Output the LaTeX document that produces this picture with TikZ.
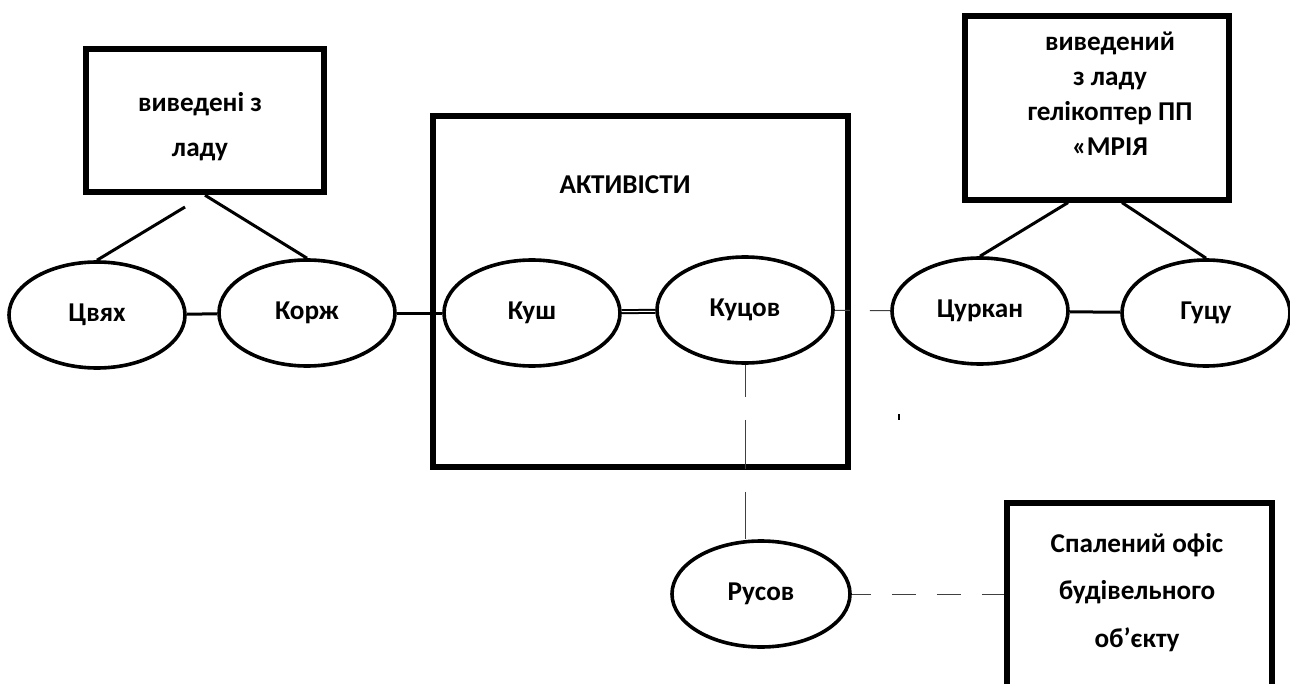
\documentclass[tikz,border=0pt]{standalone}
\usepackage{fontspec}
\setmainfont{Carlito}
\usetikzlibrary{shapes.geometric}

\begin{document}
\begin{tikzpicture}[x=0.5pt, y=-0.5pt,
    font=\fontsize{13.6}{16}\selectfont\bfseries,
    person/.style={draw, ellipse, line width=1.8pt, minimum width=88pt, minimum height=53pt, inner sep=0pt},
    frame/.style={draw, rectangle, line width=2.6pt, inner sep=0pt},
    tie/.style={line width=1.5pt},
    faint/.style={line width=0.5pt, black!75}]

    \useasboundingbox (0,0) rectangle (1290,684);
    \clip (0,0) rectangle (1290,684);

    \node[frame, line width=3.2pt, minimum width=119pt, minimum height=71.5pt] (broken) at (205,120.5) {};
    \node[align=center, font=\fontsize{13.6}{22.5}\selectfont\bfseries] (brokentext) at (200,127) {виведені з\\ладу};

    \node[frame, minimum width=207.5pt, minimum height=175.5pt] (activists) at (640.5,291.5) {};
    \node (activiststext) at (625,185) {АКТИВІСТИ};

    \node[frame, minimum width=132pt, minimum height=92pt] (mriya) at (1097,108) {};
    \node[align=center, font=\fontsize{13.6}{17.5}\selectfont\bfseries] (mriyatext) at (1110,94) {виведений\\з ладу\\гелікоптер ПП\\«МРІЯ};

    \node[frame, minimum width=132.5pt, minimum height=128.5pt] (office) at (1139.5,631.5) {};
    \node[align=center, font=\fontsize{13.6}{23.75}\selectfont\bfseries] (officetext) at (1137,592.5) {Спалений офіс\\будівельного\\об’єкту};

    \node[person] (tsviakh) at (97,315) {Цвях};
    \node[person] (korzh) at (307,313) {Корж};
    \node[person] (kush) at (532,313) {Куш};
    \node[person] (kutsov) at (745,310) {Куцов};
    \node[person] (tsurkan) at (980,311) {Цуркан};
    \node[person, minimum width=84pt] (hutsu) at (1206,313) {Гуцу};
    \node[person, minimum width=89pt] (rusov) at (761,594) {Русов};

    \coordinate (brokenfoot) at (185,207);
    \draw[tie] (brokenfoot) -- (tsviakh.north);
    \draw[tie] (broken.south) -- (korzh.north);
    \draw[tie] ([xshift=-14.5pt]mriya.south) -- (tsurkan.north);
    \draw[tie] ([xshift=12.5pt]mriya.south) -- (hutsu.north);

    \draw[tie] (tsviakh) -- (korzh);
    \draw[tie] (korzh) -- (kush);
    \draw[line width=1pt, double, double distance=0.5pt] (kush) -- (kutsov);
    \draw[tie] (tsurkan) -- (hutsu);

    \draw[faint, dash pattern=on 12pt off 10pt, dash phase=4.5pt] (kutsov) -- (tsurkan);
    \draw[faint, dash pattern=on 24.5pt off 11.5pt, dash phase=8.5pt] (kutsov.south) -- (kutsov.south |- rusov.north);
    \draw[faint, dash pattern=on 12pt off 10.5pt, dash phase=2.5pt] (rusov) -- (rusov -| office.west);

    \draw[line width=1pt] (899,414) -- (899,420);
\end{tikzpicture}
\end{document}
